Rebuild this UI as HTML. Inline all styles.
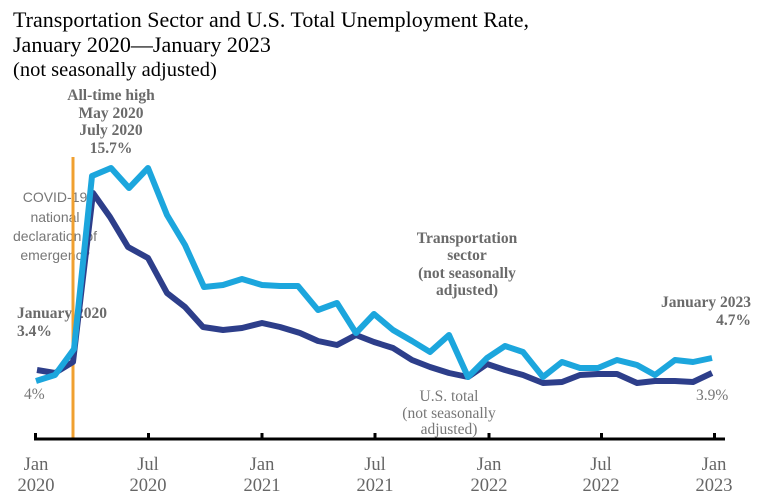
<!DOCTYPE html>
<html><head><meta charset="utf-8"><style>
html,body{margin:0;padding:0;background:#fff;}
svg{display:block;}
</style></head><body>
<svg width="757" height="500" viewBox="0 0 757 500" xmlns="http://www.w3.org/2000/svg">
<rect width="757" height="500" fill="#fff"/>
<g font-family="Liberation Serif, serif" fill="#000" font-size="22">
<text x="13" y="27">Transportation Sector and U.S. Total Unemployment Rate,</text>
<text x="13" y="52">January 2020—January 2023</text>
<text x="13" y="76" font-size="20.5">(not seasonally adjusted)</text>
</g>
<g font-family="Liberation Serif, serif" font-weight="bold" fill="#6a6a6a" font-size="15.5" text-anchor="middle">
<text x="111" y="100">All-time high</text>
<text x="111" y="118">May 2020</text>
<text x="111" y="135">July 2020</text>
<text x="111" y="153">15.7%</text>
<text x="467" y="243">Transportation</text>
<text x="467" y="260">sector</text>
<text x="467" y="278">(not seasonally</text>
<text x="467" y="295">adjusted)</text>
</g>
<g font-family="Liberation Serif, serif" font-weight="bold" fill="#6a6a6a" font-size="15.5">
<text x="17" y="318">January 2020</text>
<text x="17" y="336">3.4%</text>
<text x="751" y="307" text-anchor="end">January 2023</text>
<text x="751" y="325" text-anchor="end">4.7%</text>
</g>
<g font-family="Liberation Sans, sans-serif" fill="#777" font-size="14" text-anchor="middle">
<text x="55" y="202">COVID-19</text>
<text x="55" y="222">national</text>
<text x="55" y="241">declaration of</text>
<text x="55" y="260">emergency</text>
</g>
<g font-family="Liberation Serif, serif" fill="#777" font-size="15.5">
<text x="24" y="399">4%</text>
<text x="696" y="400">3.9%</text>
<text x="449" y="401" text-anchor="middle">U.S. total</text>
<text x="449" y="418" text-anchor="middle">(not seasonally</text>
<text x="449" y="434" text-anchor="middle">adjusted)</text>
</g>
<line x1="73" y1="157" x2="73" y2="439" stroke="#f0a030" stroke-width="3"/>
<polyline fill="none" stroke="#2d3e8a" stroke-width="6" stroke-linejoin="round" points="37,370 55,373 73,362 93,193 110,217 128,247 148,258 167,293 185,307 203,327 223,330 242,328 262,323 280,327 300,333 318,341 337,345 356,335 374,342 393,348 412,360 430,367 449,373 468,377 487,364 505,370 523,375 543,383 562,382 580,375 598,374 617,374 637,383 655,381 675,381 693,382 712,373"/>
<polyline fill="none" stroke="#1ca6dd" stroke-width="6" stroke-linejoin="round" points="36,381 55,375 74,349 92,176 111,168 129,188 148,168 167,215 185,245 204,287 223,285 242,279 262,285 280,286 298,286 318,310 337,303 356,333 374,314 393,330 412,341 430,352 449,335 468,377 487,358 505,346 523,352 543,377 562,362 580,368 598,368 617,360 637,365 655,375 675,360 693,362 712,358"/>
<g stroke="#000" stroke-width="3">
<line x1="34" y1="439" x2="725" y2="439"/>
<line x1="35.5" y1="433" x2="35.5" y2="440"/>
<line x1="148.5" y1="433" x2="148.5" y2="440"/>
<line x1="262" y1="433" x2="262" y2="440"/>
<line x1="375" y1="433" x2="375" y2="440"/>
<line x1="489" y1="433" x2="489" y2="440"/>
<line x1="601.5" y1="433" x2="601.5" y2="440"/>
<line x1="714.5" y1="433" x2="714.5" y2="440"/>
</g>
<g font-family="Liberation Serif, serif" fill="#666" font-size="18.5" text-anchor="middle">
<text x="36" y="470">Jan</text><text x="36" y="491">2020</text>
<text x="148" y="470">Jul</text><text x="148" y="491">2020</text>
<text x="262" y="470">Jan</text><text x="262" y="491">2021</text>
<text x="375" y="470">Jul</text><text x="375" y="491">2021</text>
<text x="489" y="470">Jan</text><text x="489" y="491">2022</text>
<text x="601" y="470">Jul</text><text x="601" y="491">2022</text>
<text x="714" y="470">Jan</text><text x="714" y="491">2023</text>
</g>
</svg>
</body></html>
